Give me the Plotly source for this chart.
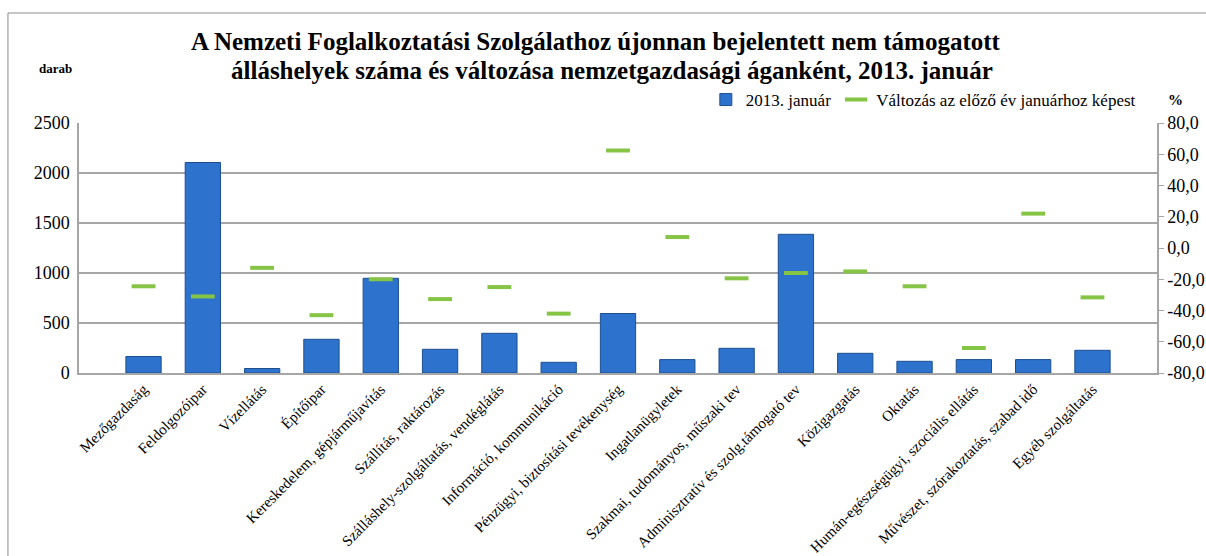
import plotly.graph_objects as go

categories = [
    "Mezőgazdaság", "Feldolgozóipar", "Vízellátás", "Építőipar",
    "Kereskedelem, gépjárműjavítás", "Szállítás, raktározás",
    "Szálláshely-szolgáltatás, vendéglátás", "Információ, kommunikáció",
    "Pénzügyi, biztosítási tevékenység", "Ingatlanügyletek",
    "Szakmai, tudományos, műszaki tev", "Adminisztratív és szolg.támogató tev",
    "Közigazgatás", "Oktatás", "Humán-egészségügyi, szociális ellátás",
    "Művészet, szórakoztatás, szabad idő", "Egyéb szolgáltatás",
]
jan2013 = [165, 2105, 45, 337, 947, 237, 397, 107, 595, 134, 247, 1387, 197, 117, 134, 134, 227]
change_pct = [-24.5, -31, -12.7, -43, -20, -32.7, -25, -42, 62.4, 7, -19.4, -16, -15, -24.5, -64, 22, -31.6]

left_ticks = [0, 500, 1000, 1500, 2000, 2500]
right_ticks = [-80, -60, -40, -20, 0, 20, 40, 60, 80]
right_ticktext = [f"{v:.1f}".replace(".", ",") for v in right_ticks]

title_lines = [
    "A Nemzeti Foglalkoztatási Szolgálathoz újonnan bejelentett nem támogatott",
    "álláshelyek száma és változása nemzetgazdasági áganként, 2013. január",
]

SERIF = "Liberation Serif, Times New Roman, serif"

fig = go.Figure()
fig.add_trace(go.Bar(
    x=categories, y=jan2013, name="2013. január",
    marker=dict(color="#2d72cc", line=dict(color="#1d4f8e", width=1)),
    yaxis="y",
))
fig.add_trace(go.Scatter(
    x=categories, y=change_pct, name="Változás az előző év januárhoz képest",
    mode="markers", yaxis="y2",
    marker=dict(symbol="line-ew", size=17, color="#8fcb4a",
                line=dict(color="#86c446", width=4)),
))

fig.update_layout(
    width=1206, height=556,
    margin=dict(l=79, r=49, t=123, b=183, autoexpand=False),
    paper_bgcolor="white", plot_bgcolor="white",
    font=dict(family=SERIF, color="black"),
    bargap=0.405,
    showlegend=True,
    legend=dict(orientation="h", x=0.985, xanchor="right", y=1.02, yanchor="bottom",
                font=dict(size=17, family=SERIF), bgcolor="rgba(0,0,0,0)",
                itemwidth=30, tracegroupgap=0),
    xaxis=dict(tickangle=-45, tickfont=dict(size=15, family=SERIF), automargin=False,
               showline=True, linecolor="#a6a6a6", linewidth=1.5,
               ticks="", showgrid=False),
    yaxis=dict(range=[0, 2500], tickvals=left_ticks, tickfont=dict(size=18, family=SERIF),
               automargin=False,
               showgrid=True, gridcolor="#a6a6a6", gridwidth=1.5,
               showline=True, linecolor="#a6a6a6", linewidth=1.5,
               zeroline=False, ticks="", ticklabelstandoff=4),
    yaxis2=dict(range=[-80, 80], tickvals=right_ticks, ticktext=right_ticktext,
                overlaying="y", side="right", showgrid=False, zeroline=False,
                automargin=False,
                showline=True, linecolor="#a6a6a6", linewidth=1.5,
                ticks="outside", ticklen=5, tickcolor="#a6a6a6",
                tickfont=dict(size=18, family=SERIF)),
    annotations=[
        dict(text=f"<b>{title_lines[0]}</b>",
             xref="paper", yref="paper", x=0.48, y=1.324, xanchor="center", yanchor="middle",
             showarrow=False, font=dict(size=25, family=SERIF)),
        dict(text=f"<b>{title_lines[1]}</b>",
             xref="paper", yref="paper", x=0.494, y=1.212, xanchor="center", yanchor="middle",
             showarrow=False, font=dict(size=25, family=SERIF)),
        dict(text="<b>darab</b>", xref="paper", yref="paper", x=-0.022, y=1.22,
             xanchor="center", yanchor="middle", showarrow=False, font=dict(size=13, family=SERIF)),
        dict(text="<b>%</b>", xref="paper", yref="paper", x=1.017, y=1.09,
             xanchor="center", yanchor="middle", showarrow=False, font=dict(size=15, family=SERIF)),
    ],
    shapes=[
        dict(type="rect", xref="paper", yref="paper", x0=-0.0659, y0=-0.9, x1=1.1, y1=1.44,
             line=dict(color="#8c8c8c", width=1), layer="below"),
    ],
)

fig.write_html("out.html", config={"displayModeBar": False},
               post_script="document.body.style.margin='0';document.body.style.overflow='hidden';")
